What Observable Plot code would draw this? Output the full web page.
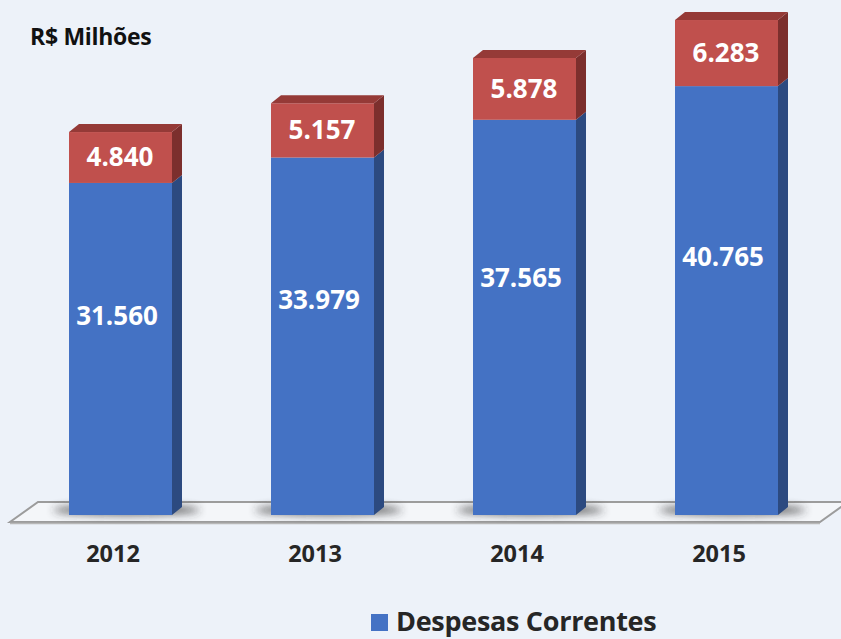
<!DOCTYPE html>
<html><head><meta charset="utf-8">
<script src="https://cdn.jsdelivr.net/npm/d3@7"></script>
<script src="https://cdn.jsdelivr.net/npm/@observablehq/plot@0.6"></script>
<style>
html,body{margin:0;padding:0;background:#edf2f9;}
body{width:841px;height:639px;overflow:hidden;position:relative;font-family:"Open Sans",Lato,sans-serif;}
#chart{position:absolute;left:0;top:0;}
#title{position:absolute;left:30px;top:23px;font-size:23px;font-weight:700;color:#111;line-height:1.2;letter-spacing:-0.3px;}
#legend{position:absolute;left:371px;top:603px;display:flex;align-items:center;gap:8px;font-size:27px;font-weight:700;color:#262626;line-height:1.3;white-space:nowrap;letter-spacing:-0.3px;}
#legend .sw{width:17px;height:17px;background:#4472c4;display:inline-block;margin-top:4px;}
</style></head><body>
<div id="chart"></div>
<div id="title">R$ Milhões</div>
<div id="legend"><span class="sw"></span><span>Despesas Correntes</span></div>
<script>
const years = ["2012", "2013", "2014", "2015"];
const correntes = [31560, 33979, 37565, 40765];
const capital = [4840, 5157, 5878, 6283];

const rows = years.map((year, i) => ({year, correntes: correntes[i], capital: capital[i], total: correntes[i] + capital[i]}));
const br = d3.formatLocale({decimal: ",", thousands: ".", grouping: [3], currency: ["R$", ""]});
const fmt = br.format(",d");

const BLUE = "#4472c4", BLUE_SIDE = "#2c4a80";
const RED = "#c0504d", RED_SIDE = "#7c2f2d", RED_TOP = "#953a37";
const DX = 10, DY = -8;
const FONT = "'Open Sans', Lato, sans-serif";

function bandwidthOf(x, dimensions) {
  if (typeof x.bandwidth === "function") return x.bandwidth();
  return (dimensions.width - dimensions.marginLeft - dimensions.marginRight) / 3.51 * 0.51;
}

function floorMark(index, scales, values, dimensions) {
  const x = scales.x, y = scales.y;
  const bw = bandwidthOf(x, dimensions);
  const g = d3.create("svg:g");
  const base = y(0);
  const yt = base - 13, yb = base + 7, slant = 28;
  const x0 = x(years[0]) - 31, x1 = x(years[years.length - 1]) + bw + 70;
  const defs = g.append("defs");
  defs.append("filter").attr("id", "shadowblur").attr("x", "-50%").attr("y", "-200%").attr("width", "200%").attr("height", "500%")
    .append("feGaussianBlur").attr("stdDeviation", 4);
  g.append("polygon")
    .attr("points", [[x0, yt], [x1, yt], [x1 - slant, yb], [x0 - slant, yb]].map(p => p.join(",")).join(" "))
    .attr("fill", "#f4f6f9").attr("stroke", "#9c9c9c").attr("stroke-width", 2);
  g.append("line").attr("x1", x0 - slant).attr("x2", x1 - slant).attr("y1", yb + 1.5).attr("y2", yb + 1.5)
    .attr("stroke", "#b8b8b8").attr("stroke-width", 1.5);
  for (const r of rows) {
    g.append("ellipse")
      .attr("cx", x(r.year) + bw / 2 + 6).attr("cy", base - 5)
      .attr("rx", bw / 2 + 22).attr("ry", 5)
      .attr("fill", "#2a2a2a").attr("opacity", 0.75)
      .attr("filter", "url(#shadowblur)");
  }
  return g.node();
}

function depthMark(index, scales, values, dimensions) {
  const x = scales.x, y = scales.y;
  const bw = bandwidthOf(x, dimensions);
  const g = d3.create("svg:g");
  const poly = pts => pts.map(p => p.join(",")).join(" ");
  for (const r of rows) {
    const xl = x(r.year), xr = xl + bw;
    const y0 = y(0), y1 = y(r.correntes), y2 = y(r.total);
    g.append("polygon").attr("points", poly([[xr, y0], [xr + DX, y0 + DY], [xr + DX, y1 + DY], [xr, y1]])).attr("fill", BLUE_SIDE);
    g.append("polygon").attr("points", poly([[xr, y1], [xr + DX, y1 + DY], [xr + DX, y2 + DY], [xr, y2]])).attr("fill", RED_SIDE);
    g.append("polygon").attr("points", poly([[xl, y2], [xl + DX, y2 + DY], [xr + DX, y2 + DY], [xr, y2]])).attr("fill", RED_TOP);
  }
  return g.node();
}

const chart = Plot.plot({
  width: 841,
  height: 605,
  marginLeft: 69,
  marginRight: 62,
  marginTop: 10,
  marginBottom: 90,
  style: {background: "transparent", fontFamily: FONT, overflow: "visible"},
  x: {domain: years, paddingInner: 0.49, paddingOuter: 0, axis: null},
  y: {domain: [0, 48000], axis: null},
  marks: [
    floorMark,
    Plot.barY(rows, {x: "year", y1: 0, y2: "correntes", fill: BLUE}),
    Plot.barY(rows, {x: "year", y1: "correntes", y2: "total", fill: RED}),
    depthMark,
    Plot.text(rows, {x: "year", y: d => d.correntes * 0.6, text: d => fmt(d.correntes), fill: "white", fontSize: 26, fontWeight: "bold", dx: -4}),
    Plot.text(rows, {x: "year", y: d => d.correntes + d.capital / 2, text: d => fmt(d.capital), fill: "white", fontSize: 26, fontWeight: "bold", dx: -1}),
    Plot.text(rows, {x: "year", text: "year", frameAnchor: "bottom", dy: 46, dx: -8, fill: "#262626", fontSize: 23.5, fontWeight: "bold"})
  ]
});
document.getElementById("chart").appendChild(chart);
</script></body></html>
